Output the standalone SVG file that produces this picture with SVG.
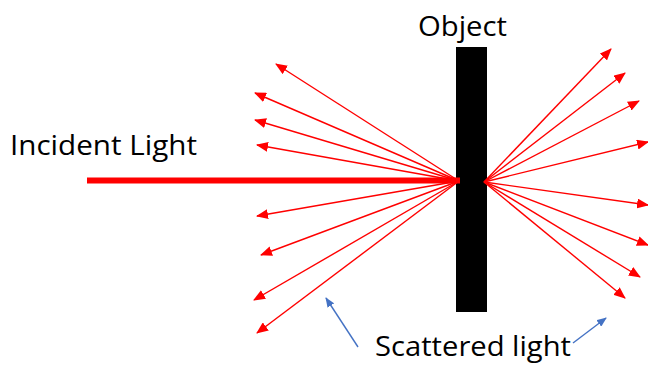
<svg xmlns="http://www.w3.org/2000/svg" width="648" height="367" viewBox="0 0 648 367">
<style>
.ray{stroke:#ff0000;stroke-width:1.4;fill:none;marker-end:url(#ra)}
.blue{stroke:#4472c4;stroke-width:1.4;fill:none;marker-end:url(#ba)}
.lbl{font-family:"Open Sans","Noto Sans",sans-serif;font-size:27px;fill:#000}
</style>
<defs>
<marker id="ra" viewBox="0 0 12 10" refX="11" refY="5" markerWidth="12" markerHeight="10" markerUnits="userSpaceOnUse" orient="auto"><path d="M0,0 L12,5 L0,10 Z" fill="#ff0000"/></marker>
<marker id="ba" viewBox="0 0 10 8" refX="9" refY="4" markerWidth="10" markerHeight="8" markerUnits="userSpaceOnUse" orient="auto"><path d="M0,0 L10,4 L0,8 Z" fill="#4472c4"/></marker>
</defs>
<rect width="648" height="367" fill="#fff"/>
<g id="object">
<rect x="456" y="47" width="31" height="265" fill="#000"/>
<text class="lbl" x="418" y="36" textLength="89" lengthAdjust="spacingAndGlyphs">Object</text>
</g>
<g id="incident">
<text class="lbl" x="10" y="155" textLength="187" lengthAdjust="spacingAndGlyphs">Incident Light</text>
</g>
<g id="scattered">
<text class="lbl" x="375" y="356" textLength="196" lengthAdjust="spacingAndGlyphs">Scattered light</text>
</g>
<g id="connectors">
<line x1="87" y1="180.5" x2="460" y2="180.5" stroke="#ff0000" stroke-width="6"/>
<line class="ray" x1="459" y1="181" x2="276" y2="64"/>
<line class="ray" x1="459" y1="181" x2="255" y2="93"/>
<line class="ray" x1="459" y1="181" x2="255" y2="120"/>
<line class="ray" x1="459" y1="181" x2="257" y2="145"/>
<line class="ray" x1="459" y1="181" x2="257" y2="216"/>
<line class="ray" x1="459" y1="181" x2="261" y2="255"/>
<line class="ray" x1="459" y1="181" x2="254" y2="300"/>
<line class="ray" x1="459" y1="181" x2="257" y2="333"/>
<line class="ray" x1="484" y1="182" x2="611" y2="49"/>
<line class="ray" x1="484" y1="182" x2="625" y2="73"/>
<line class="ray" x1="484" y1="182" x2="639" y2="101"/>
<line class="ray" x1="484" y1="182" x2="648" y2="142"/>
<line class="ray" x1="484" y1="182" x2="648" y2="205"/>
<line class="ray" x1="484" y1="182" x2="648" y2="245"/>
<line class="ray" x1="484" y1="182" x2="640" y2="277"/>
<line class="ray" x1="484" y1="182" x2="625" y2="298"/>
<line class="blue" x1="358" y1="347" x2="326" y2="298"/>
<line class="blue" x1="573" y1="343" x2="606" y2="318"/>
</g>
</svg>
